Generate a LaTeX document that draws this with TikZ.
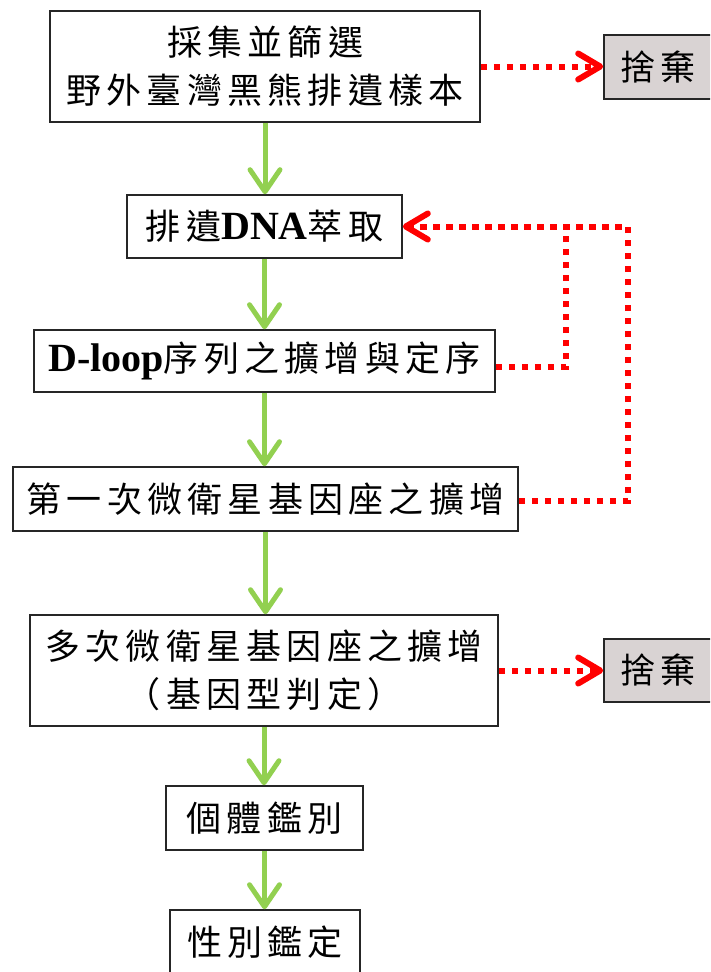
\documentclass[tikz,border=0pt]{standalone}
\usepackage{fontspec}
\setmainfont{Liberation Serif}
\newfontfamily\cjk[LetterSpace=15]{Noto Sans CJK TC}
\usetikzlibrary{arrows.meta}
\definecolor{flowgreen}{RGB}{146,208,80}
\definecolor{discgray}{RGB}{217,211,211}
\newcommand{\lat}[1]{{\rmfamily\fontsize{40}{48}\selectfont\bfseries #1}}
\tikzset{
  box/.style={draw=black!85, line width=1.6pt, fill=white, inner sep=0pt,
    align=center, font=\cjk\fontsize{35}{48}\selectfont},
  disc/.style={box, fill=discgray},
  flow/.style={draw=flowgreen, line width=5pt,
    -{Straight Barb[length=22pt,width=30pt,line width=5pt,round]}},
  reddot/.style={draw=red, line width=6pt, dash pattern=on 6.5pt off 6.5pt},
  redarrow/.style={reddot, -{Straight Barb[length=22pt,width=26pt,line width=6pt,round]}}
}
\begin{document}
\begin{tikzpicture}[x=1pt,y=-1pt]
\clip (0,0) rectangle (710,972);
\useasboundingbox (0,0) rectangle (710,972);
\node[box, minimum width=430pt, minimum height=111pt] (b1) at (265,66.5) {採集並篩選\\野外臺灣黑熊排遺樣本};
\node[box, minimum width=275pt, minimum height=63pt] (b2) at (264.5,226.5) {排遺\lat{DNA}萃取};
\node[box, minimum width=461pt, minimum height=62pt] (b3) at (264.5,361) {\lat{D-loop}序列之擴增與定序};
\node[box, minimum width=505pt, minimum height=64pt] (b4) at (265.5,499) {第一次微衛星基因座之擴增};
\node[box, minimum width=468pt, minimum height=111pt] (b5) at (264,670.5) {多次微衛星基因座之擴增\\（基因型判定）};
\node[box, minimum width=197pt, minimum height=64pt] (b6) at (264.5,818) {個體鑑別};
\node[box, minimum width=190pt, minimum height=64pt] (b7) at (265,942) {性別鑑定};
\node[disc, minimum width=108pt, minimum height=64pt] (d1) at (658,67) {捨棄};
\node[disc, minimum width=108pt, minimum height=63pt] (d2) at (658,670.5) {捨棄};
% green flow arrows
\draw[flow] (b1.south) -- (b1.south |- b2.north);
\draw[flow] (b2.south) -- (b2.south |- b3.north);
\draw[flow] (b3.south) -- (b3.south |- b4.north);
\draw[flow] (b4.south) -- (b4.south |- b5.north);
\draw[flow] (b5.south) -- (b5.south |- b6.north);
\draw[flow] (b6.south) -- (b6.south |- b7.north);
% red discard arrows
\draw[redarrow] (b1.east) -- (b1.east -| d1.west);
\draw[redarrow] (b5.east) -- (b5.east -| d2.west);
% red feedback arrows
\coordinate (j1) at (566,226.5);
\coordinate (j2) at (628,226.5);
\draw[reddot] ([yshift=-6pt]b3.east) -| (j1);
\draw[redarrow] ([yshift=-2pt]b4.east) -| (j2) -- (b2.east);
\end{tikzpicture}
\end{document}
